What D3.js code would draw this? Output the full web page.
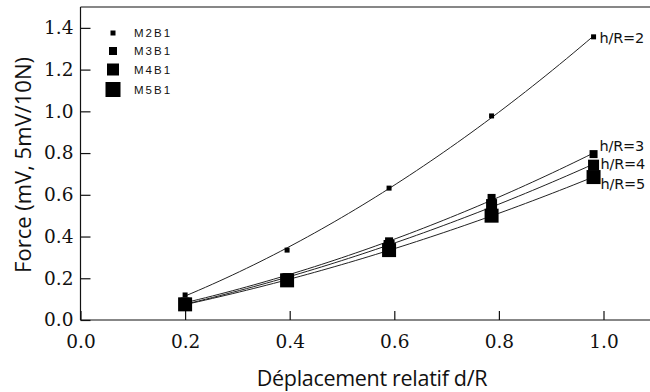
<!DOCTYPE html>
<html>
<head>
<meta charset="utf-8">
<script src="https://cdn.jsdelivr.net/npm/d3@7"></script>
<style>
  html, body { margin: 0; padding: 0; background: #fff; }
  svg { display: block; }
</style>
</head>
<body>
<svg id="chart" width="650" height="392"></svg>
<script>
// Relative displacement d/R at which each force was measured
const displacement = [0.2, 0.395, 0.59, 0.786, 0.981];

// Measured force for each specimen (mV, 5 mV / 10 N)
const forceM2B1 = [0.12, 0.335, 0.632, 0.978, 1.357];
const forceM3B1 = [0.088, 0.205, 0.377, 0.585, 0.795];
const forceM4B1 = [0.08, 0.197, 0.357, 0.553, 0.742];
const forceM5B1 = [0.075, 0.19, 0.335, 0.50, 0.685];

const seriesNames = ["M2B1", "M3B1", "M4B1", "M5B1"];
const curveLabels = ["h/R=2", "h/R=3", "h/R=4", "h/R=5"];

const xTicks = [0.0, 0.2, 0.4, 0.6, 0.8, 1.0];
const yTicks = [0.0, 0.2, 0.4, 0.6, 0.8, 1.0, 1.2, 1.4];

const seriesValues = [forceM2B1, forceM3B1, forceM4B1, forceM5B1];
const markerSize = [5, 8, 11, 14];
const legendSize = [5, 8, 12, 15];

const svg = d3.select("#chart");

const x = d3.scaleLinear().domain([0, 1.1]).range([80.5, 80.5 + 523 * 1.1]);
const y = d3.scaleLinear().domain([0, 1.5]).range([320, 7]);

// Frame: top border
svg.append("line")
  .attr("x1", x(0)).attr("x2", 650)
  .attr("y1", y(1.5)).attr("y2", y(1.5))
  .attr("stroke", "#111").attr("stroke-width", 1.2);

// Y axis, ticks pointing into the plot
const yAxis = svg.append("g")
  .attr("transform", `translate(${x(0)},0)`)
  .call(d3.axisLeft(y).tickValues(yTicks).tickFormat(d3.format(".1f")).tickSizeInner(-10).tickSizeOuter(0).tickPadding(7));
yAxis.select(".domain").attr("d", `M0,${y(1.5)}V${y(0)}`);

// X axis, ticks pointing into the plot
const xAxis = svg.append("g")
  .attr("transform", `translate(0,${y(0)})`)
  .call(d3.axisBottom(x).tickValues(xTicks).tickFormat(d3.format(".1f")).tickSizeInner(-9).tickSizeOuter(0).tickPadding(15));
xAxis.select(".domain").attr("d", `M${x(0)},0H650`);

svg.selectAll(".domain").attr("stroke", "#111").attr("stroke-width", 1.2);
svg.selectAll(".tick line").attr("stroke", "#111").attr("stroke-width", 1.2);
svg.selectAll(".tick text")
  .attr("font-family", "'DejaVu Serif', serif")
  .attr("font-size", 18.5)
  .attr("fill", "#111");

// Least-squares quadratic through each series, drawn as a smooth trend curve
function quadFit(xs, ys) {
  const n = xs.length;
  let s = [0, 0, 0, 0, 0], t = [0, 0, 0];
  for (let i = 0; i < n; i++) {
    for (let k = 0; k <= 4; k++) s[k] += Math.pow(xs[i], k);
    for (let k = 0; k <= 2; k++) t[k] += ys[i] * Math.pow(xs[i], k);
  }
  const A = [[s[0], s[1], s[2]], [s[1], s[2], s[3]], [s[2], s[3], s[4]]];
  const b = t.slice();
  for (let c = 0; c < 3; c++) {
    for (let r = c + 1; r < 3; r++) {
      const f = A[r][c] / A[c][c];
      for (let k = c; k < 3; k++) A[r][k] -= f * A[c][k];
      b[r] -= f * b[c];
    }
  }
  const coef = [0, 0, 0];
  for (let r = 2; r >= 0; r--) {
    let v = b[r];
    for (let k = r + 1; k < 3; k++) v -= A[r][k] * coef[k];
    coef[r] = v / A[r][r];
  }
  return xv => coef[0] + coef[1] * xv + coef[2] * xv * xv;
}

const line = d3.line().x(d => x(d[0])).y(d => y(d[1])).curve(d3.curveLinear);
const x0 = displacement[0], x1 = displacement[displacement.length - 1];

seriesValues.forEach((vals, i) => {
  const f = quadFit(displacement, vals);
  const pts = d3.range(0, 61).map(k => {
    const xv = x0 + (x1 - x0) * k / 60;
    return [xv, f(xv)];
  });
  svg.append("path")
    .attr("d", line(pts))
    .attr("fill", "none")
    .attr("stroke", "#222")
    .attr("stroke-width", 1);
});

// Markers: square, size grows with h/R
seriesValues.forEach((vals, i) => {
  const s = markerSize[i];
  svg.append("g").selectAll("rect")
    .data(displacement.map((d, j) => [d, vals[j]]))
    .join("rect")
    .attr("x", d => x(d[0]) - s / 2)
    .attr("y", d => y(d[1]) - s / 2)
    .attr("width", s).attr("height", s)
    .attr("fill", "#000");
});

// Curve labels at the end of each series
const labelY = [y(forceM2B1[4]) + 1, 146, 164, 184];
const labelDx = [6, 6, 7, 7];
curveLabels.forEach((t, i) => {
  svg.append("text")
    .attr("x", x(x1) + labelDx[i])
    .attr("y", labelY[i])
    .attr("dy", "0.35em")
    .attr("font-family", "'DejaVu Sans', sans-serif")
    .attr("font-size", 14.5)
    .attr("letter-spacing", -0.2)
    .attr("fill", "#111")
    .text(t);
});

// Legend
const legendY = [33, 51, 69.5, 89.5];
seriesNames.forEach((name, i) => {
  const s = legendSize[i];
  svg.append("rect")
    .attr("x", 113 - s / 2).attr("y", legendY[i] - s / 2)
    .attr("width", s).attr("height", s)
    .attr("fill", "#000");
  svg.append("text")
    .attr("x", 134).attr("y", legendY[i])
    .attr("dy", "0.35em")
    .attr("font-family", "'Liberation Sans', Arial, sans-serif")
    .attr("font-size", 11.5)
    .attr("letter-spacing", 2)
    .attr("fill", "#111")
    .text(name);
});

// Axis titles
svg.append("text")
  .attr("x", 372).attr("y", 386)
  .attr("text-anchor", "middle")
  .attr("font-family", "'Open Sans', sans-serif")
  .attr("font-size", 21.5)
  .attr("letter-spacing", -0.3)
  .attr("fill", "#111")
  .text("Déplacement relatif d/R");

svg.append("text")
  .attr("transform", "translate(31,165) rotate(-90)")
  .attr("text-anchor", "middle")
  .attr("font-family", "'Open Sans', sans-serif")
  .attr("font-size", 22)
  .attr("fill", "#111")
  .text("Force (mV, 5mV/10N)");
</script>
</body>
</html>
